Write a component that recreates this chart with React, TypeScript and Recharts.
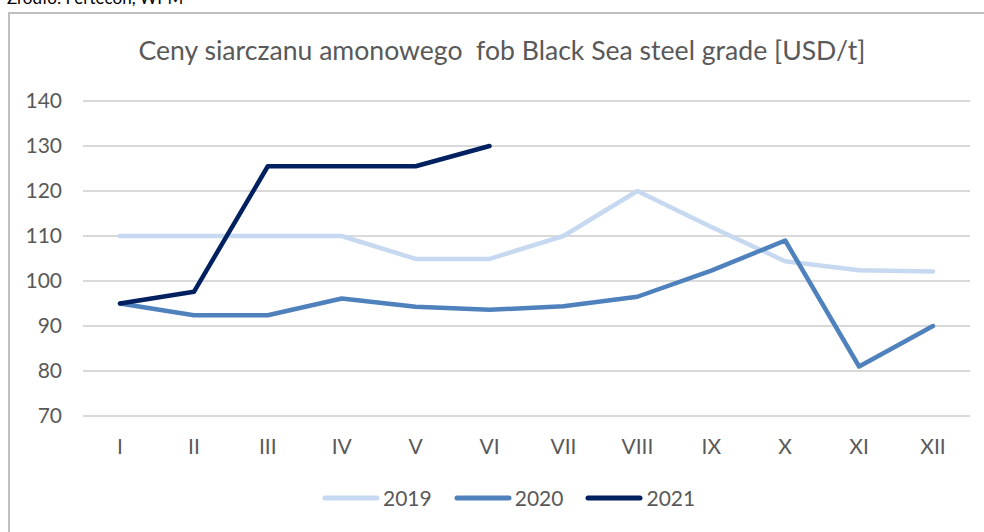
import { LineChart, Line, XAxis, YAxis, CartesianGrid } from 'recharts';

const months = ['I', 'II', 'III', 'IV', 'V', 'VI', 'VII', 'VIII', 'IX', 'X', 'XI', 'XII'];
const prices2019 = [110, 110, 110, 110, 104.9, 104.9, 110, 120, 112, 104.4, 102.4, 102.1];
const prices2020 = [95, 92.4, 92.4, 96.1, 94.3, 93.6, 94.4, 96.5, 102.3, 109, 81, 90];
const prices2021 = [95, 97.6, 125.5, 125.5, 125.5, 130, null, null, null, null, null, null];
const yTicks = [70, 80, 90, 100, 110, 120, 130, 140];

const data = months.map((m, i) => ({
  month: m,
  '2019': prices2019[i],
  '2020': prices2020[i],
  '2021': prices2021[i],
}));

const FONT = 'Lato, "Open Sans", sans-serif';
const TEXT = '#595959';

const series = [
  { key: '2019', color: '#c6d9f1' },
  { key: '2020', color: '#4f81bd' },
  { key: '2021', color: '#002060' },
];

function LegendRow() {
  return (
    <div style={{ display: 'flex', alignItems: 'center', fontFamily: FONT, fontSize: 21, color: TEXT }}>
      {series.map((s, i) => (
        <div key={s.key} style={{ display: 'flex', alignItems: 'center', marginLeft: i === 0 ? 0 : 22 }}>
          <svg width={58} height={10}>
            <line x1={3} y1={5} x2={55} y2={5} stroke={s.color} strokeWidth={5} strokeLinecap="round" />
          </svg>
          <span style={{ marginLeft: 3 }}>{s.key}</span>
        </div>
      ))}
    </div>
  );
}

export default function App() {
  return (
    <div style={{ position: 'absolute', left: 0, top: 0, width: 984, height: 532, overflow: 'hidden', background: '#fff' }}>
      <div style={{ position: 'absolute', left: 7, top: -11, fontFamily: FONT, fontSize: 17, lineHeight: 1, color: '#000' }}>
        Źródło: Fertecon, WPM
      </div>
      <div style={{ position: 'absolute', left: 8, top: 12, width: 990, height: 540, border: '2px solid #bfbfbf', boxSizing: 'border-box' }} />
      <div style={{ position: 'absolute', left: 0, right: 0, top: 34, textAlign: 'center', paddingLeft: 20, fontFamily: FONT, fontSize: 26.6, color: TEXT, whiteSpace: 'pre' }}>
        {'Ceny siarczanu amonowego  fob Black Sea steel grade [USD/t]'}
      </div>
      <div style={{ position: 'absolute', left: 0, top: 0 }}>
        <LineChart width={984} height={532} data={data} margin={{ top: 101, right: 14, bottom: 86, left: 0 }}>
          <CartesianGrid vertical={false} stroke="#d9d9d9" strokeWidth={2} />
          <XAxis
            dataKey="month"
            axisLine={false}
            tickLine={false}
            tickSize={0}
            tickMargin={23}
            padding={{ left: 37, right: 37 }}
            tick={{ fill: TEXT, fontSize: 21, fontFamily: FONT }}
            interval={0}
          />
          <YAxis
            domain={[70, 140]}
            ticks={yTicks}
            width={83}
            axisLine={false}
            tickLine={false}
            tickSize={0}
            tickMargin={21}
            tick={{ fill: TEXT, fontSize: 21, fontFamily: FONT }}
          />
          {series.map((s) => (
            <Line
              key={s.key}
              dataKey={s.key}
              stroke={s.color}
              strokeWidth={4.5}
              strokeLinecap="round"
              strokeLinejoin="round"
              dot={false}
              activeDot={false}
              isAnimationActive={false}
            />
          ))}
        </LineChart>
      </div>
      <div style={{ position: 'absolute', left: 322, top: 485 }}>
        <LegendRow />
      </div>
    </div>
  );
}
